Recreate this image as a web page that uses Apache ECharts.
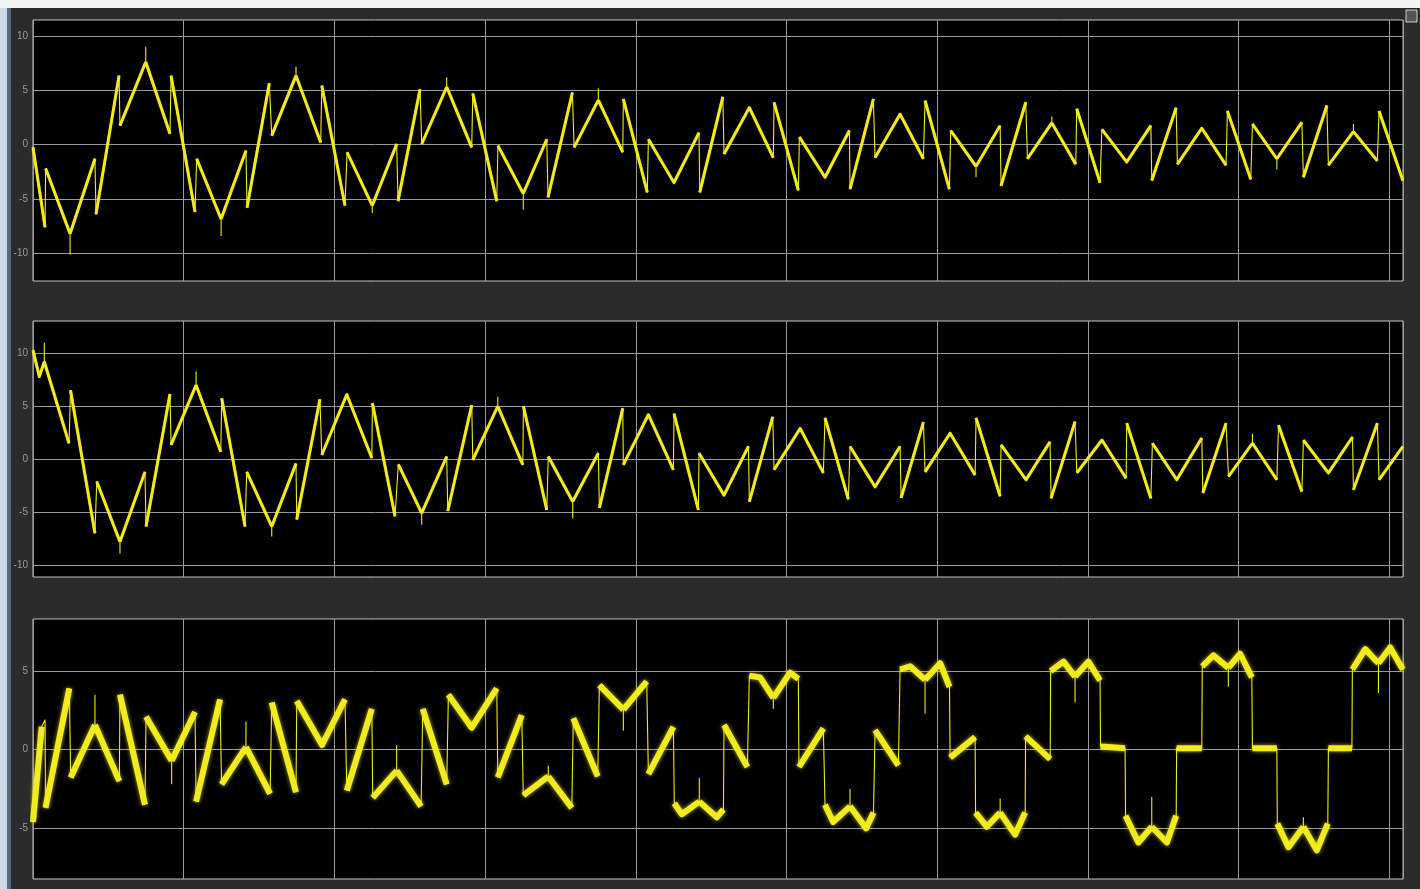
<!DOCTYPE html>
<html>
<head>
<meta charset="utf-8">
<script src="https://cdn.jsdelivr.net/npm/echarts@6/dist/echarts.min.js"></script>
<style>
html, body { margin: 0; padding: 0; background: #2b2b2b; }
#chart { width: 1420px; height: 889px; }
</style>
</head>
<body>
<div id="chart"></div>
<script>
const xMax = 9.09
const yTicksBig = [-10, -5, 0, 5, 10]
const yTicksSmall = [-5, 0, 5]
const yRanges = [[-12.55, 11.47], [-11.13, 13.05], [-8.22, 8.31]]

// scope 1 (time in grid divisions, value)
const p1T = [0, 0.080, 0.084, 0.246, 0.246, 0.246, 0.411, 0.418, 0.571, 0.577, 0.748, 0.748, 0.748, 0.909, 0.916,
    1.075, 1.086, 1.248, 1.248, 1.248, 1.413, 1.420, 1.568, 1.584, 1.745, 1.745, 1.745, 1.909, 1.916,
    2.070, 2.084, 2.251, 2.251, 2.251, 2.413, 2.422, 2.568, 2.579, 2.745, 2.745, 2.745, 2.911, 2.918,
    3.077, 3.085, 3.253, 3.253, 3.253, 3.409, 3.417, 3.579, 3.590, 3.751, 3.751, 3.751, 3.913, 3.917,
    4.076, 4.083, 4.253, 4.419, 4.424, 4.577, 4.585, 4.753, 4.912, 4.917,
    5.078, 5.085, 5.255, 5.417, 5.421, 5.576, 5.587, 5.753, 5.908, 5.919,
    6.080, 6.089, 6.257, 6.257, 6.257, 6.417, 6.423, 6.587, 6.598, 6.760, 6.760, 6.760, 6.919, 6.925,
    7.080, 7.092, 7.257, 7.417, 7.423, 7.585, 7.593, 7.755, 7.916, 7.925,
    8.080, 8.091, 8.253, 8.253, 8.253, 8.419, 8.429, 8.585, 8.595, 8.761, 8.761, 8.761, 8.920, 8.931, 9.089]
const p1V = [-0.25, -7.6, -2.2, -8.2, -10.1, -8.2, -1.3, -6.4, 6.35, 1.75, 7.6, 9.0, 7.6, 1.0, 6.35,
    -6.2, -1.3, -6.85, -8.4, -6.85, -0.55, -5.8, 5.65, 0.83, 6.35, 7.2, 6.35, 0.2, 5.43,
    -5.6, -0.7, -5.6, -6.3, -5.6, 0.06, -5.2, 5.1, 0.06, 5.3, 6.2, 5.3, -0.25, 4.7,
    -5.2, -0.1, -4.5, -6.0, -4.5, 0.5, -4.85, 4.8, -0.25, 4.1, 5.2, 4.1, -0.7, 4.2,
    -4.4, 0.5, -3.5, 1.1, -4.4, 4.4, -0.86, 3.4, -1.2, 3.9,
    -4.2, 0.7, -3.0, 1.3, -4.1, 4.2, -1.2, 2.8, -1.3, 4.05,
    -4.1, 1.3, -2.0, -3.0, -2.0, 1.75, -3.8, 3.9, -1.3, 2.0, 2.6, 2.0, -1.8, 3.3,
    -3.5, 1.4, -1.6, 1.75, -3.3, 3.4, -1.8, 1.5, -1.9, 3.1,
    -3.2, 1.9, -1.3, -2.3, -1.3, 2.05, -3.0, 3.6, -1.9, 1.2, 1.9, 1.2, -1.5, 3.1, -3.3]

// scope 2
const p2T = [0, 0.042, 0.075, 0.075, 0.075, 0.239, 0.249, 0.411, 0.423, 0.577, 0.577, 0.577, 0.743, 0.750, 0.909, 0.916,
    1.082, 1.082, 1.082, 1.246, 1.252, 1.407, 1.418, 1.584, 1.584, 1.584, 1.745, 1.750, 1.904, 1.916,
    2.082, 2.248, 2.252, 2.402, 2.424, 2.579, 2.579, 2.579, 2.745, 2.752, 2.911, 2.918,
    3.084, 3.084, 3.084, 3.250, 3.254, 3.409, 3.419, 3.581, 3.581, 3.581, 3.751, 3.758, 3.913, 3.917,
    4.083, 4.249, 4.253, 4.415, 4.419, 4.585, 4.747, 4.753, 4.908, 4.917,
    5.090, 5.244, 5.255, 5.410, 5.421, 5.587, 5.753, 5.760, 5.908, 5.919,
    6.085, 6.251, 6.257, 6.417, 6.423, 6.589, 6.748, 6.755, 6.914, 6.926,
    7.092, 7.253, 7.257, 7.417, 7.427, 7.589, 7.755, 7.762, 7.916, 7.932,
    8.091, 8.091, 8.091, 8.253, 8.264, 8.419, 8.429, 8.595, 8.755, 8.761, 8.920, 8.931, 9.089]
const p2V = [10.3, 7.8, 9.2, 11.0, 9.2, 1.5, 6.5, -7.0, -2.1, -7.8, -8.9, -7.8, -1.2, -6.35, 6.15, 1.35,
    7.0, 8.3, 7.0, 0.7, 5.75, -6.35, -1.2, -6.35, -7.3, -6.35, -0.4, -5.7, 5.65, 0.4,
    6.1, 0.1, 5.3, -5.4, -0.5, -5.1, -6.2, -5.1, 0.25, -4.9, 5.1, -0.07,
    5.0, 5.9, 5.0, -0.54, 5.0, -4.8, 0.25, -4.0, -5.6, -4.0, 0.57, -4.6, 4.8, -0.54,
    4.2, -1.0, 4.3, -4.8, 0.57, -3.4, 1.2, -4.0, 4.0, -1.0,
    2.9, -1.3, 3.9, -3.8, 1.2, -2.6, 1.2, -3.65, 3.5, -1.2,
    2.45, -1.5, 3.9, -3.5, 1.35, -1.95, 1.65, -3.7, 3.55, -1.3,
    1.8, -1.8, 3.4, -3.7, 1.5, -1.95, 2.0, -3.2, 3.4, -1.64,
    1.5, 2.4, 1.5, -1.95, 3.2, -3.05, 1.8, -1.3, 2.1, -2.9, 3.4, -1.95, 1.2]

// scope 3
const p3T = [0, 0.058, 0.080, 0.083, 0.241, 0.250, 0.411, 0.411, 0.411, 0.573, 0.577, 0.743, 0.750, 0.920, 0.920, 0.920,
    1.075, 1.082, 1.241, 1.251, 1.413, 1.413, 1.413, 1.573, 1.584, 1.745, 1.750, 1.918,
    2.070, 2.082, 2.248, 2.254, 2.413, 2.413, 2.413, 2.575, 2.586, 2.745, 2.756, 2.911,
    3.077, 3.084, 3.243, 3.253, 3.419, 3.419, 3.419, 3.575, 3.585, 3.747, 3.758, 3.917, 3.917, 3.917,
    4.072, 4.083, 4.249, 4.255, 4.305, 4.421, 4.421, 4.421, 4.537, 4.581, 4.585, 4.740, 4.753, 4.824, 4.912, 4.912, 4.912,
    5.023, 5.078, 5.082, 5.244, 5.255, 5.309, 5.421, 5.421, 5.421, 5.528, 5.577, 5.587, 5.742, 5.753, 5.820, 5.919, 5.919, 5.919,
    6.019, 6.081, 6.085, 6.251, 6.254, 6.329, 6.417, 6.417, 6.417, 6.516, 6.583, 6.586, 6.749, 6.752, 6.837, 6.914, 6.914, 6.914,
    7.003, 7.080, 7.083, 7.246, 7.249, 7.334, 7.423, 7.423, 7.423, 7.523, 7.585, 7.588, 7.755, 7.758, 7.832, 7.931, 7.931, 7.931,
    8.009, 8.087, 8.091, 8.253, 8.256, 8.330, 8.429, 8.429, 8.429, 8.518, 8.591, 8.595, 8.751, 8.754, 8.839, 8.927, 8.927, 8.927,
    9.005, 9.089]
const p3V = [-4.6, 1.46, 1.9, -3.7, 3.9, -1.76, 1.57, 3.5, 1.57, -2.0, 3.5, -3.5, 2.1, -0.7, -2.2, -0.7,
    2.4, -3.3, 3.2, -2.2, 0.17, 1.8, 0.17, -2.8, 3.0, -2.7, 3.1, 0.3,
    3.2, -2.6, 2.6, -3.05, -1.33, 0.3, -1.33, -3.6, 2.6, -2.2, 3.5, 1.4,
    3.9, -1.76, 2.2, -2.9, -1.7, -1.0, -1.7, -3.7, 2.0, -1.7, 4.1, 2.55, 1.2, 2.55,
    4.35, -1.55, 1.45, -3.4, -4.1, -3.3, -1.8, -3.3, -4.3, -3.8, 1.57, -1.1, 4.7, 4.6, 3.3, 2.6, 3.3,
    4.9, 4.5, -1.1, 1.35, -3.5, -4.6, -3.6, -2.5, -3.6, -5.0, -4.0, 1.25, -1.0, 5.1, 5.3, 4.45, 2.3, 4.45,
    5.5, 4.0, -0.5, 0.8, -4.0, -4.9, -4.0, -3.1, -4.0, -5.4, -4.0, 0.85, -0.6, 5.0, 5.6, 4.65, 3.0, 4.65,
    5.6, 4.4, 0.2, 0.1, -4.2, -5.9, -4.9, -3.0, -4.9, -5.9, -4.2, 0.1, 0.1, 5.3, 6.0, 5.2, 4.0, 5.2,
    6.1, 4.6, 0.1, 0.1, -4.7, -6.2, -4.9, -4.3, -4.9, -6.4, -4.7, 0.1, 0.1, 5.1, 6.4, 5.5, 3.6, 5.5,
    6.5, 5.1]

const yellow = '#f2ec1c'
const pairs = (ts, vs) => ts.map((t, i) => [t, vs[i]])

// ramps get the thick trace; the steep jumps and spikes only keep the thin one
const ramps = (ts, vs) => {
    const out = []
    ts.forEach((t, i) => {
        if (i > 0 && t - ts[i - 1] < 0.025) out.push(['-', '-'])
        out.push([t, vs[i]])
    })
    return out
}

const panels = [
    { t: p1T, v: p1V, ticks: yTicksBig, width: 2.8, blur: 1 },
    { t: p2T, v: p2V, ticks: yTicksBig, width: 2.8, blur: 1 },
    { t: p3T, v: p3V, ticks: yTicksSmall, width: 6, blur: 4 }
]

const gridBoxes = [
    { left: 33, top: 20, width: 1370, height: 261 },
    { left: 33, top: 321, width: 1370, height: 256 },
    { left: 33, top: 619, width: 1370, height: 260 }
]

const chart = echarts.init(document.getElementById('chart'))

chart.setOption({
    animation: false,
    backgroundColor: '#2b2b2b',
    graphic: [
        { type: 'rect', shape: { x: 0, y: 0, width: 1420, height: 8 }, style: { fill: '#f3f3f3' } },
        { type: 'rect', shape: { x: 0, y: 8, width: 7, height: 881 }, style: { fill: '#cdd9e5' } },
        { type: 'rect', shape: { x: 7, y: 8, width: 4, height: 881 }, style: { fill: '#56697d' } },
        { type: 'rect', shape: { x: 1406, y: 10, width: 11, height: 12 }, style: { fill: '#555', stroke: '#d0d0d0', lineWidth: 1 } }
    ],
    grid: gridBoxes.map(g => ({
        ...g,
        show: true,
        backgroundColor: '#000',
        borderColor: '#c4c4c4',
        borderWidth: 1
    })),
    xAxis: panels.map((p, i) => ({
        type: 'value',
        gridIndex: i,
        min: 0,
        max: xMax,
        interval: 1,
        axisLine: { show: false },
        axisTick: { show: false },
        axisLabel: { show: false },
        splitLine: { show: true, lineStyle: { color: '#9a9a9a', width: 1 } }
    })),
    yAxis: panels.map((p, i) => ({
        type: 'value',
        gridIndex: i,
        min: yRanges[i][0],
        max: yRanges[i][1],
        axisLine: { show: false },
        axisTick: { show: false, customValues: p.ticks },
        axisLabel: {
            customValues: p.ticks,
            color: '#9a9a9a',
            fontSize: 10,
            fontFamily: 'Liberation Sans',
            margin: 5
        },
        splitLine: { show: true, lineStyle: { color: '#9a9a9a', width: 1 } }
    })),
    series: panels.flatMap((p, i) => [
        {
            type: 'line',
            xAxisIndex: i,
            yAxisIndex: i,
            data: pairs(p.t, p.v),
            symbol: 'none',
            silent: true,
            lineStyle: { color: yellow, width: 1.1 },
            z: 3
        },
        {
            type: 'line',
            xAxisIndex: i,
            yAxisIndex: i,
            data: ramps(p.t, p.v),
            symbol: 'none',
            silent: true,
            connectNulls: false,
            lineStyle: {
                color: yellow,
                width: p.width,
                join: 'round',
                shadowBlur: p.blur,
                shadowColor: 'rgba(240, 232, 20, 0.7)'
            },
            z: 4
        }
    ])
})
</script>
</body>
</html>
